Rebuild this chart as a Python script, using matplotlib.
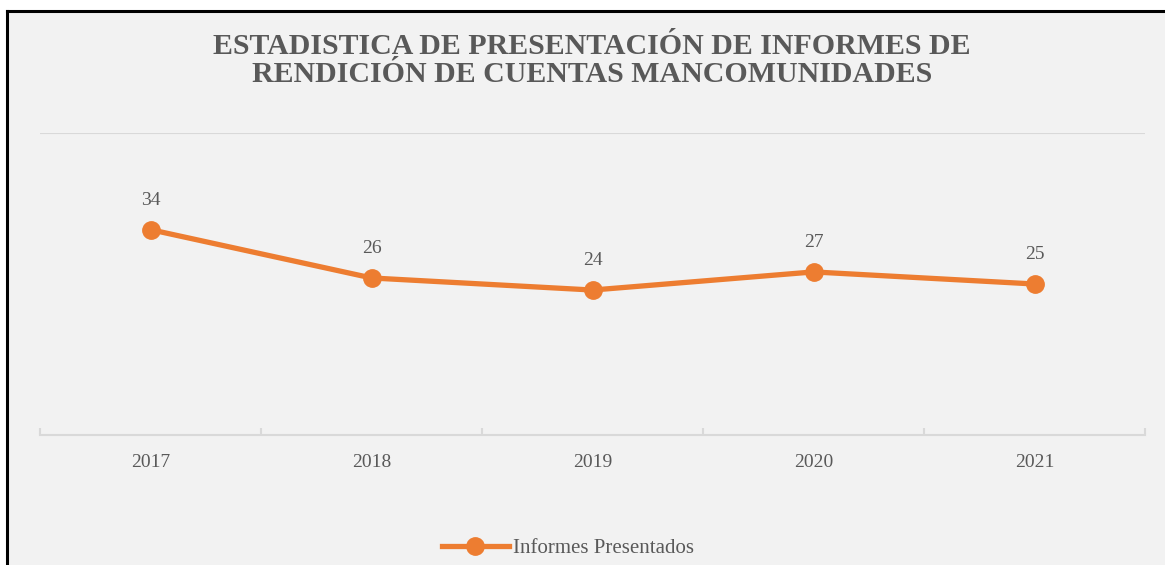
import matplotlib.pyplot as plt
from matplotlib.lines import Line2D

# data
years = ["2017", "2018", "2019", "2020", "2021"]
informes = [34, 26, 24, 27, 25]
title_lines = ["ESTADISTICA DE PRESENTACIÓN DE INFORMES DE",
               "RENDICIÓN DE CUENTAS MANCOMUNIDADES"]

plt.rcParams['font.family'] = ['Liberation Serif', 'DejaVu Serif']

fig = plt.figure(figsize=(11.65, 5.65), dpi=100)
fig.patch.set_facecolor('white')

# panel background with black border on top and left
bg = plt.Rectangle((7 / 1165, 0), 1, 1 - 11 / 565, transform=fig.transFigure,
                   facecolor='#f2f2f2', edgecolor='none', zorder=-5)
fig.patches.append(bg)
fig.add_artist(Line2D([7 / 1165, 7 / 1165], [0, 1 - 11 / 565], transform=fig.transFigure,
                      color='black', lw=2.2))
fig.add_artist(Line2D([7 / 1165, 1], [1 - 11 / 565, 1 - 11 / 565], transform=fig.transFigure,
                      color='black', lw=2.2))

ax = fig.add_axes([40 / 1165, 1 - 435 / 565, 1105 / 1165, 302 / 565])
ax.set_facecolor('none')

x = list(range(len(years)))
ax.plot(x, informes, color='#ED7D31', lw=3.8, marker='o', markersize=12.5, zorder=3)

for xi, v in zip(x, informes):
    ax.annotate(str(v), (xi, v), xytext=(0, 15), textcoords='offset points',
                ha='center', va='bottom', fontsize=14, color='#595959')

ax.set_xlim(-0.5, 4.5)
ax.set_ylim(0, 50)
ax.set_yticks([])
ax.axhline(50, color='#d9d9d9', lw=1.5, zorder=1)

for s in ['top', 'right', 'left']:
    ax.spines[s].set_visible(False)
ax.spines['bottom'].set_color('#d9d9d9')
ax.spines['bottom'].set_linewidth(1.5)

ax.set_xticks(x)
ax.set_xticklabels(years, fontsize=14, color='#595959')
ax.set_xticks([-0.5, 0.5, 1.5, 2.5, 3.5, 4.5], minor=True)
ax.tick_params(axis='x', which='major', length=0, pad=14)
ax.tick_params(axis='x', which='minor', length=5, width=1.5, color='#d9d9d9', direction='in')

# title, one text per line so the accents don't collide
for line, base in zip(title_lines, [54, 82]):
    fig.text(592 / 1165, 1 - base / 565, line, ha='center', va='baseline',
             fontsize=21.5, fontweight='bold', color='#595959')

handle = Line2D([], [], color='#ED7D31', lw=3.8, marker='o', markersize=12.5)
fig.legend([handle], ["Informes Presentados"], loc='center', bbox_to_anchor=(568 / 1165, 1 - 548 / 565),
           frameon=False, fontsize=15, labelcolor='#595959', handlelength=3.2, handletextpad=0.2)

fig.savefig('out.png', dpi=100)
